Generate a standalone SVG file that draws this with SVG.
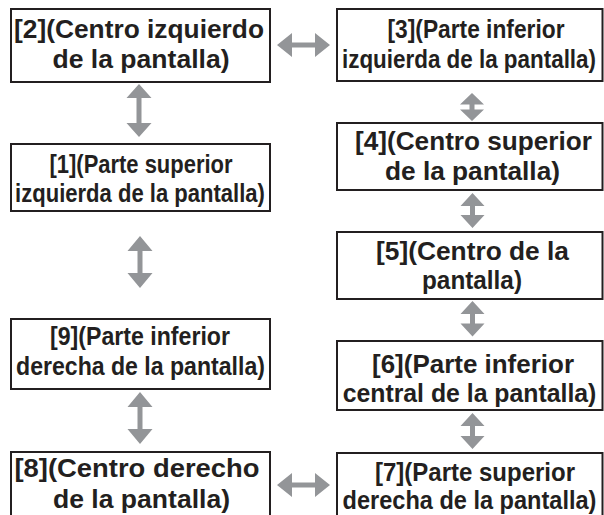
<svg xmlns="http://www.w3.org/2000/svg" width="604" height="515" viewBox="0 0 604 515">
<style>
.box{fill:#ffffff;stroke:#231f20;stroke-width:2}
.t{font-family:"Liberation Sans",Arial,sans-serif;font-weight:bold;font-size:26px;fill:#231f20;text-anchor:middle}
.arr{fill:#939598;stroke:none}
</style>
<rect width="604" height="515" fill="#ffffff"/>
<g id="connectors">
<path class="arr" d="M277,45 L292,33 L292,42.5 L315,42.5 L315,33 L330,45 L315,57 L315,47.5 L292,47.5 L292,57 Z"/>
<path class="arr" d="M277,485 L292,473 L292,482.5 L315,482.5 L315,473 L330,485 L315,497 L315,487.5 L292,487.5 L292,497 Z"/>
<path class="arr" d="M139,84 L151.5,98 L141.5,98 L141.5,123 L151.5,123 L139,137 L126.5,123 L136.5,123 L136.5,98 L126.5,98 Z"/>
<path class="arr" d="M140,236 L152.5,251 L142.5,251 L142.5,273 L152.5,273 L140,288 L127.5,273 L137.5,273 L137.5,251 L127.5,251 Z"/>
<path class="arr" d="M140,392 L152.5,407 L142.5,407 L142.5,429 L152.5,429 L140,444 L127.5,429 L137.5,429 L137.5,407 L127.5,407 Z"/>
<path class="arr" d="M472,93 L484,104.5 L474.5,104.5 L474.5,109.5 L484,109.5 L472,121 L460,109.5 L469.5,109.5 L469.5,104.5 L460,104.5 Z"/>
<path class="arr" d="M472.5,193 L484.5,206 L475,206 L475,215 L484.5,215 L472.5,228 L460.5,215 L470,215 L470,206 L460.5,206 Z"/>
<path class="arr" d="M472.5,301 L484.5,314 L475,314 L475,323.5 L484.5,323.5 L472.5,336.5 L460.5,323.5 L470,323.5 L470,314 L460.5,314 Z"/>
<path class="arr" d="M472.5,413 L484.5,426 L475,426 L475,436 L484.5,436 L472.5,449 L460.5,436 L470,436 L470,426 L460.5,426 Z"/>
</g>
<g id="node2">
<rect class="box" x="11" y="9" width="259" height="73"/>
<text class="t" x="139" y="38" textLength="250" lengthAdjust="spacingAndGlyphs">[2](Centro izquierdo</text>
<text class="t" x="141" y="68" textLength="177" lengthAdjust="spacingAndGlyphs">de la pantalla)</text>
</g>
<g id="node3">
<rect class="box" x="337" y="9" width="265.5" height="72"/>
<text class="t" x="476" y="37.5" textLength="177" lengthAdjust="spacingAndGlyphs">[3](Parte inferior</text>
<text class="t" transform="translate(469,68) scale(0.862,1)">izquierda de la pantalla)</text>
</g>
<g id="node1">
<rect class="box" x="11" y="144" width="259" height="67"/>
<text class="t" x="141" y="173" textLength="183" lengthAdjust="spacingAndGlyphs">[1](Parte superior</text>
<text class="t" transform="translate(140,202) scale(0.848,1)">izquierda de la pantalla)</text>
</g>
<g id="node4">
<rect class="box" x="337" y="123" width="265.5" height="67"/>
<text class="t" x="473.5" y="150" textLength="237" lengthAdjust="spacingAndGlyphs">[4](Centro superior</text>
<text class="t" x="472.5" y="180" textLength="175" lengthAdjust="spacingAndGlyphs">de la pantalla)</text>
</g>
<g id="node5">
<rect class="box" x="337" y="232" width="265.5" height="67"/>
<text class="t" x="472.5" y="260" textLength="193" lengthAdjust="spacingAndGlyphs">[5](Centro de la</text>
<text class="t" x="472" y="289" textLength="100" lengthAdjust="spacingAndGlyphs">pantalla)</text>
</g>
<g id="node9">
<rect class="box" x="11" y="319" width="259" height="70"/>
<text class="t" x="140" y="345" textLength="180" lengthAdjust="spacingAndGlyphs">[9](Parte inferior</text>
<text class="t" transform="translate(140.5,375) scale(0.888,1)">derecha de la pantalla)</text>
</g>
<g id="node6">
<rect class="box" x="337" y="341" width="265.5" height="69"/>
<text class="t" x="473" y="373" textLength="202" lengthAdjust="spacingAndGlyphs">[6](Parte inferior</text>
<text class="t" transform="translate(469.5,402) scale(0.955,1)">central de la pantalla)</text>
</g>
<g id="node8">
<rect class="box" x="11" y="452" width="259" height="70"/>
<text class="t" x="137" y="477" textLength="245" lengthAdjust="spacingAndGlyphs">[8](Centro derecho</text>
<text class="t" x="141.5" y="508" textLength="177" lengthAdjust="spacingAndGlyphs">de la pantalla)</text>
</g>
<g id="node7">
<rect class="box" x="337" y="453" width="265.5" height="70"/>
<text class="t" x="475" y="481" textLength="200" lengthAdjust="spacingAndGlyphs">[7](Parte superior</text>
<text class="t" transform="translate(469.5,509) scale(0.906,1)">derecha de la pantalla)</text>
</g>
</svg>
